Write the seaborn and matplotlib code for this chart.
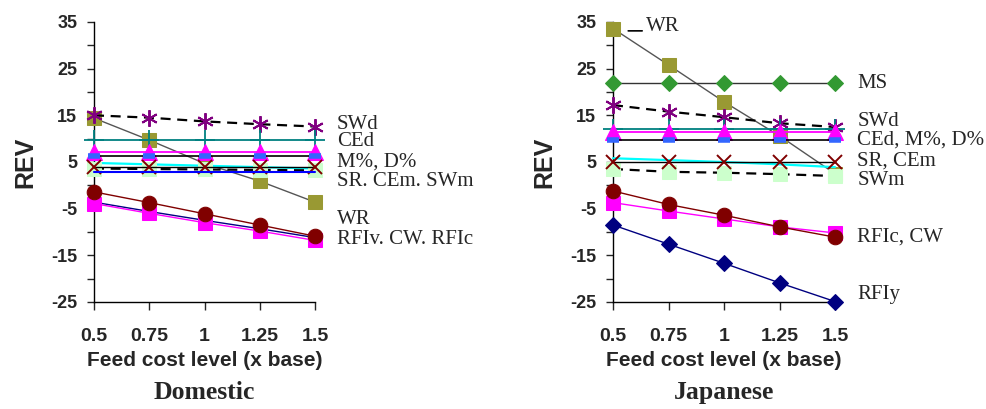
import numpy as np
import pandas as pd
import matplotlib.pyplot as plt
import seaborn as sns

feed_levels = [0.5, 0.75, 1.0, 1.25, 1.5]
x_labels = ['0.5', '0.75', '1', '1.25', '1.5']
y_ticks = [-25, -20, -15, -10, -5, 0, 5, 10, 15, 20, 25, 30, 35]
y_labels = ['-25', '', '-15', '', '-5', '', '5', '', '15', '', '25', '', '35']

# Domestic breed REV values
dom_wr = [14.4, 9.7, 4.7, 0.9, -3.6]
dom_swd = [15.0, 14.5, 13.7, 13.1, 12.6]
dom_ced = [9.7, 9.7, 9.7, 9.7, 9.7]
dom_mpct = [7.2, 7.2, 7.2, 7.2, 7.2]
dom_dpct = [6.3, 6.3, 6.3, 6.3, 6.3]
dom_cem = [4.8, 4.5, 4.2, 3.9, 3.6]
dom_swm = [3.6, 3.5, 3.4, 3.3, 3.2]
dom_sr = [3.9, 3.9, 3.9, 3.9, 3.9]
dom_ms = [2.9, 2.9, 2.9, 2.9, 2.9]
dom_rfiv = [-3.6, -5.6, -7.5, -9.3, -11.2]
dom_rfic = [-3.9, -6.0, -8.0, -9.8, -11.8]
dom_cw = [-1.4, -3.7, -6.1, -8.5, -10.9]

# Japanese breed REV values
jap_wr = [33.6, 25.8, 17.9, 10.6, 2.5]
jap_ms = [22.0, 22.0, 22.0, 22.0, 22.0]
jap_swd = [17.2, 15.8, 14.6, 13.3, 12.5]
jap_ced = [12.1, 12.1, 12.1, 12.1, 12.1]
jap_mpct = [11.4, 11.4, 11.4, 11.4, 11.4]
jap_dpct = [9.7, 9.7, 9.7, 9.7, 9.7]
jap_cem = [5.8, 5.4, 5.0, 4.5, 3.9]
jap_swm = [3.5, 2.9, 2.7, 2.4, 2.0]
jap_sr = [4.9, 4.9, 4.9, 4.9, 4.9]
jap_rfiy = [-8.5, -12.6, -16.7, -20.9, -24.9]
jap_rfic = [-3.7, -5.5, -7.2, -8.9, -10.2]
jap_cw = [-1.2, -4.1, -6.4, -8.9, -11.1]

# line / marker looks, keyed by trait
styles = {
    'WR':   dict(color='#555555', linewidth=1.0, marker='s', markersize=10,
                 markerfacecolor='#999933', markeredgecolor='#999933'),
    'MS':   dict(color='#333333', linewidth=1.0, marker='D', markersize=8,
                 markerfacecolor='#339933', markeredgecolor='#339933'),
    'MSd':  dict(color='#0000FF', linewidth=1.5, marker=None),
    'SWd':  dict(color='black', linewidth=1.6, linestyle=(0, (4.5, 3)),
                 marker=(6, 2, 0), markersize=12, markeredgewidth=1.4,
                 markeredgecolor='#800080'),
    'CEd':  dict(color='#008080', linewidth=1.3, marker='+', markersize=14,
                 markeredgewidth=1.3, markeredgecolor='#008080'),
    'M%':   dict(color='#FF00FF', linewidth=1.3, marker='^', markersize=11,
                 markerfacecolor='#FF00FF', markeredgecolor='#FF00FF'),
    'D%':   dict(color='black', linewidth=1.2, marker='_', markersize=8,
                 markeredgewidth=4, markeredgecolor='#3366FF'),
    'CEm':  dict(color='#00FFFF', linewidth=1.6, marker=None),
    'SWm':  dict(color='black', linewidth=1.6, linestyle=(0, (4.5, 3)),
                 marker='s', markersize=10, markerfacecolor='#CCFFCC',
                 markeredgecolor='#CCFFCC'),
    'SR':   dict(color='black', linewidth=1.0, marker='x', markersize=10,
                 markeredgewidth=1.4, markeredgecolor='#800000'),
    'RFIv': dict(color='#000080', linewidth=1.0, marker=None),
    'RFIy': dict(color='#000080', linewidth=1.0, marker='D', markersize=8,
                 markerfacecolor='#000080', markeredgecolor='#000080'),
    'RFIc': dict(color='#FF00FF', linewidth=1.0, marker='s', markersize=10,
                 markerfacecolor='#FF00FF', markeredgecolor='#FF00FF'),
    'CW':   dict(color='#800000', linewidth=1.0, marker='o', markersize=10.5,
                 markerfacecolor='#800000', markeredgecolor='#800000'),
}

dom_series = [('WR', dom_wr), ('SWd', dom_swd), ('CEd', dom_ced),
              ('M%', dom_mpct), ('D%', dom_dpct), ('CEm', dom_cem),
              ('SWm', dom_swm), ('SR', dom_sr), ('MSd', dom_ms),
              ('RFIv', dom_rfiv), ('RFIc', dom_rfic), ('CW', dom_cw)]
jap_series = [('WR', jap_wr), ('MS', jap_ms), ('SWd', jap_swd),
              ('CEd', jap_ced), ('M%', jap_mpct), ('D%', jap_dpct),
              ('CEm', jap_cem), ('SWm', jap_swm), ('SR', jap_sr),
              ('RFIy', jap_rfiy), ('RFIc', jap_rfic), ('CW', jap_cw)]

dom_labels = [('SWd', 13.1), ('CEd', 9.4), ('M%, D%', 5.0),
              ('SR. CEm. SWm', 0.9), ('WR', -7.3), ('RFIv. CW. RFIc', -11.7)]
jap_labels = [('MS', 21.9), ('SWd', 13.6), ('CEd, M%, D%', 9.7),
              ('SR, CEm', 5.3), ('SWm', 1.0), ('RFIc, CW', -11.0),
              ('RFIy', -23.5)]

sns.set_style('ticks')
plt.rcParams['font.family'] = ['Liberation Sans', 'DejaVu Sans']

fig = plt.figure(figsize=(9.86, 4.09), dpi=100)
W, H = 986, 409
ax1 = fig.add_axes([94 / W, 1 - 302 / H, 221 / W, 280 / H])
ax2 = fig.add_axes([613 / W, 1 - 302 / H, 222 / W, 280 / H])


def draw_panel(ax, series, labels, title):
    for z, (name, vals) in enumerate(series):
        sns.lineplot(x=feed_levels, y=vals, ax=ax, clip_on=False,
                     zorder=3 + z * 0.1, **styles[name])
    ax.set_xlim(0.5, 1.5)
    ax.set_ylim(-25, 35)
    ax.set_xticks(feed_levels)
    ax.set_xticklabels(x_labels, fontsize=14, fontweight='bold')
    ax.set_yticks(y_ticks)
    ax.set_yticklabels(y_labels, fontsize=13, fontweight='bold')
    ax.tick_params(axis='y', length=5, width=1, pad=7, direction='out')
    ax.tick_params(axis='x', length=6, width=1, pad=13, direction='out')
    for side in ['top', 'right']:
        ax.spines[side].set_visible(False)
    for side in ['left', 'bottom']:
        ax.spines[side].set_linewidth(1)
        ax.spines[side].set_color('black')
    ax.set_xlabel('Feed cost level (x base)', fontsize=15, fontweight='bold',
                  labelpad=4)
    ax.set_ylabel('REV', fontsize=18, fontweight='bold', labelpad=10)
    ax.set_title(title, y=-0.375, fontsize=18.5, fontweight='bold',
                 family='Liberation Serif')
    for text, yv in labels:
        ax.text(1.6, yv, text, fontsize=15, family='Liberation Serif',
                va='center', ha='left', clip_on=False)


draw_panel(ax1, dom_series, dom_labels, 'Domestic')
draw_panel(ax2, jap_series, jap_labels, 'Japanese')

# WR callout at the top of the Japanese panel
ax2.annotate('WR', xy=(0.556, 33.1), xytext=(0.648, 34.1),
             fontsize=15, family='Liberation Serif', va='center',
             annotation_clip=False)
ax2.annotate('', xy=(0.556, 33.1), xytext=(0.644, 33.1),
             arrowprops=dict(arrowstyle='-', color='black', lw=1.2),
             annotation_clip=False)

fig.savefig('out.png', dpi=100)
